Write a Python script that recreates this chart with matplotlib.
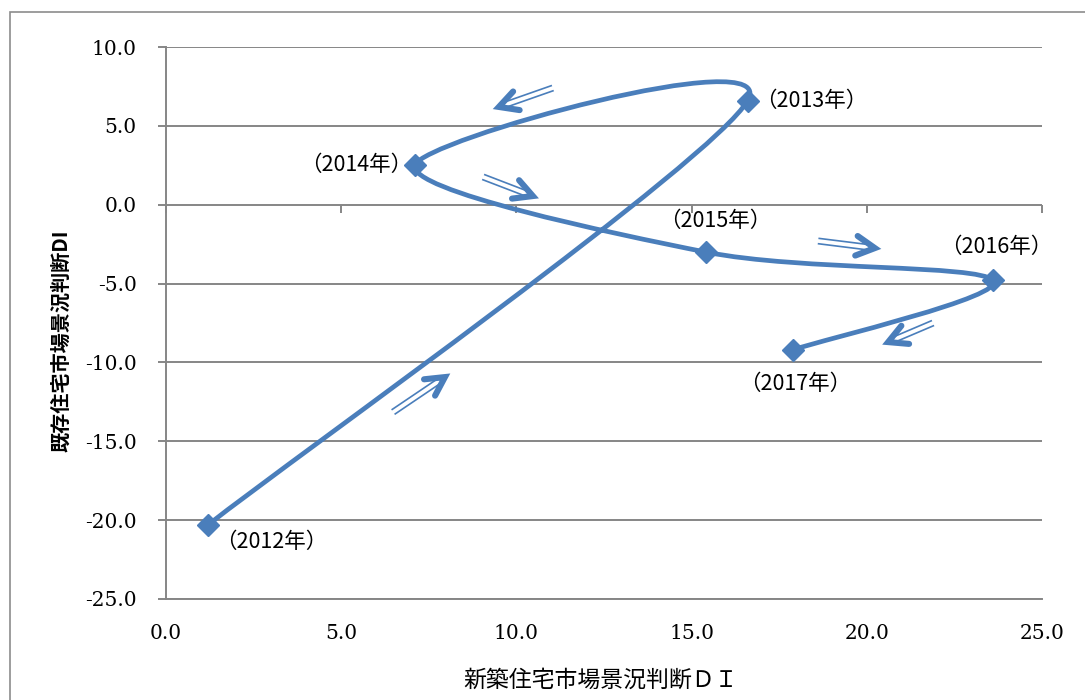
import numpy as np
import matplotlib
matplotlib.use('Agg')
import matplotlib.pyplot as plt
from matplotlib.path import Path
from matplotlib.patches import PathPatch, Rectangle
from matplotlib.lines import Line2D
from matplotlib.transforms import IdentityTransform

# ---------------- data ----------------
year_labels = ['（2012年）', '（2013年）', '（2014年）', '（2015年）', '（2016年）', '（2017年）']
new_di = [1.2, 16.6, 7.1, 15.4, 23.6, 17.9]          # 新築住宅市場景況判断DI
existing_di = [-20.3, 6.6, 2.5, -3.0, -4.8, -9.2]    # 既存住宅市場景況判断DI

x_ticks = [0, 5, 10, 15, 20, 25]
y_ticks = [-25, -20, -15, -10, -5, 0, 5, 10]

# direction arrows (annotations): tail -> tip, data coords
arrow_tails = [(11.04, 7.40), (9.05, 1.76), (18.61, -2.30), (21.89, -7.50), (6.48, -13.15)]
arrow_tips = [(9.50, 6.20), (10.47, 0.55), (20.23, -2.75), (20.61, -8.71), (7.96, -10.93)]

# label offsets (pixels, centre of text relative to point)
label_offsets = [(63, -17), (64, 0), (-59, 0), (10, 31), (3, 33), (2, -34)]

LINE_C = '#4A7EBB'
GRID_C = '#868686'

plt.rcParams['font.family'] = ['Noto Sans CJK JP', 'DejaVu Sans']
plt.rcParams['axes.unicode_minus'] = False

W, H = 1085, 700
fig = plt.figure(figsize=(W / 100, H / 100), dpi=100)
L, R, T, B = 166, 1042, 47, 599
ax = fig.add_axes([L / W, 1 - B / H, (R - L) / W, (B - T) / H])

ax.set_xlim(0, 25)
ax.set_ylim(-25, 10)

# ---------- smoothed line (Catmull-Rom style Bezier like Excel) ----------
pts = np.column_stack([new_di, existing_di]).astype(float)
n = len(pts)
verts = [tuple(pts[0])]
codes = [Path.MOVETO]
for i in range(n - 1):
    p_prev = pts[i - 1] if i > 0 else pts[i]
    p0 = pts[i]
    p1 = pts[i + 1]
    p_next = pts[i + 2] if i + 2 < n else pts[i + 1]
    c1 = p0 + (p1 - p_prev) / 6.0
    c2 = p1 - (p_next - p0) / 6.0
    verts += [tuple(c1), tuple(c2), tuple(p1)]
    codes += [Path.CURVE4] * 3
patch = PathPatch(Path(verts, codes), fill=False, ec=LINE_C, lw=3.4,
                  capstyle='round', joinstyle='round', zorder=3)
ax.add_patch(patch)
ax.plot(new_di, existing_di, ls='none', marker='D', ms=11, color=LINE_C, zorder=4)

# ---------- axes styling ----------
for s in ['top', 'right']:
    ax.spines[s].set_visible(False)
ax.spines['left'].set_color(GRID_C)
ax.spines['left'].set_linewidth(1.4)
ax.spines['bottom'].set_color(GRID_C)
ax.spines['bottom'].set_linewidth(1.4)

ax.set_yticks(y_ticks)
ax.set_yticklabels([f'{v:.1f}' for v in y_ticks], family='DejaVu Serif', fontsize=14.5)
ax.tick_params(axis='y', length=6, width=1.4, color=GRID_C, pad=15, direction='out')
ax.set_xticks(x_ticks)
ax.set_xticklabels([f'{v:.1f}' for v in x_ticks], family='DejaVu Serif', fontsize=14.5)
ax.tick_params(axis='x', length=0, pad=18)
ax.yaxis.grid(True, color=GRID_C, lw=1.4)
ax.set_axisbelow(True)

# horizontal axis crossing at y = 0 : downward tick marks
ax.plot(x_ticks, [0] * len(x_ticks), ls='none', marker=3, ms=5.5, mew=1.4,
        color=GRID_C, zorder=1, clip_on=False)

# ---------- data labels ----------
for (x, y), lab, (dx, dy) in zip(pts, year_labels, label_offsets):
    ax.annotate(lab, (x, y), xytext=(dx, dy), textcoords='offset pixels',
                ha='center', va='center', fontsize=15.5, color='black', zorder=5)

# ---------- axis titles ----------
fig.text(601 / W, 1 - 680 / H, '新築住宅市場景況判断ＤＩ', ha='center', va='center', fontsize=16.5)
fig.text(61 / W, 1 - 341 / H, '既存住宅市場景況判断DI', ha='center', va='center',
         rotation=90, fontsize=14.5, fontweight='bold')

# ---------- double-shaft arrows ----------
fig.canvas.draw()
tr = ax.transData
for tail, tip in zip(arrow_tails, arrow_tips):
    p0 = tr.transform(tail)
    p1 = tr.transform(tip)
    d = p1 - p0
    u = d / np.hypot(*d)
    nrm = np.array([-u[1], u[0]])
    end = p1 - u * 8
    for s in (-2.7, 2.7):
        a = p0 + nrm * s
        b = end + nrm * s
        fig.add_artist(Line2D([a[0], b[0]], [a[1], b[1]], transform=IdentityTransform(),
                              color=LINE_C, lw=1.2, solid_capstyle='butt'))
    ang = np.deg2rad(28)
    back = -u
    arms = []
    for sgn in (1, -1):
        c, s_ = np.cos(sgn * ang), np.sin(sgn * ang)
        v = np.array([back[0] * c - back[1] * s_, back[0] * s_ + back[1] * c])
        arms.append(p1 + v * 21)
    xs = [arms[0][0], p1[0], arms[1][0]]
    ys = [arms[0][1], p1[1], arms[1][1]]
    fig.add_artist(Line2D(xs, ys, transform=IdentityTransform(), color=LINE_C, lw=4.4,
                          solid_capstyle='round', solid_joinstyle='miter'))

# outer chart border
fig.add_artist(Rectangle((10 / W, -0.1), 1.2, (H - 12) / H + 0.1, transform=fig.transFigure,
                         fill=False, ec='#8c8c8c', lw=1.2))

fig.savefig('out.png', dpi=100)
